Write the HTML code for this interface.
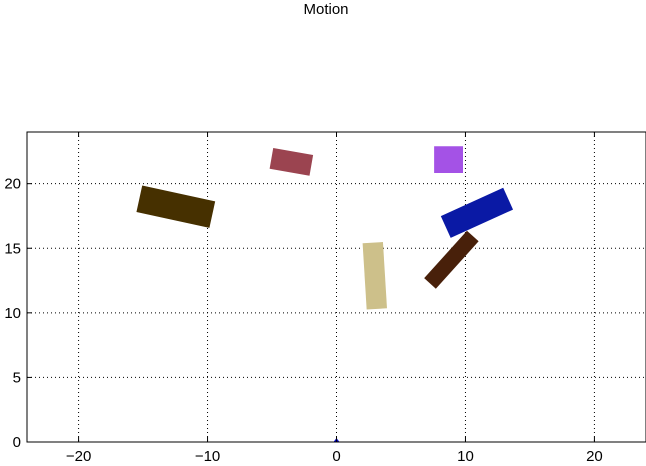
<!DOCTYPE html>
<html><head><meta charset="utf-8"><style>
body{margin:0;background:#fff}
svg{display:block;font-family:"Liberation Sans","DejaVu Sans",sans-serif}
</style></head><body>
<svg id="chart" width="646" height="466" viewBox="0 0 646 466">
<text x="326" y="14" font-size="15" text-anchor="middle">Motion</text>
<g id="grid"></g>
<g id="marks"></g>
<g id="axes"></g>
</svg>
<script>
const xTicks=[-20,-10,0,10,20];
const yTicks=[0,5,10,15,20];
const rectNames=['rect-dark-brown','rect-red','rect-purple','rect-blue','rect-brown','rect-tan'];
const rectCx=[-12.46,-3.5,8.69,10.89,8.91,2.97];
const rectCy=[18.22,21.69,21.86,17.74,14.11,12.87];
const rectLen=[5.79,3.14,2.24,5.31,4.95,5.14];
const rectWid=[2.1,1.63,2.07,1.85,1.22,1.58];
const rectAng=[-12.3,-9.9,0,24.4,47.9,93.5];
const rectColors=['#463000','#9b4450','#a452e6','#0a19a5','#48200a','#cdc08a'];
const X0=27,X1=646,Y0=442,Y1=132,xmin=-24,xmax=24,ymin=0,ymax=24;
const sx=v=>X0+(v-xmin)/(xmax-xmin)*(X1-X0);
const sy=v=>Y0-(v-ymin)/(ymax-ymin)*(Y0-Y1);
const NS='http://www.w3.org/2000/svg';
function mk(t,a,p){const e=document.createElementNS(NS,t);for(const k in a)e.setAttribute(k,a[k]);p.appendChild(e);return e;}
const grid=document.getElementById('grid'),axes=document.getElementById('axes'),marks=document.getElementById('marks');
xTicks.forEach(t=>{const x=sx(t);
 const g=mk('line',{x1:x,x2:x,y1:Y1,y2:Y0,stroke:'#000','stroke-dasharray':'1,3'},grid);
 
 
 mk('line',{x1:x,x2:x,y1:Y0,y2:Y0-5,stroke:'#000'},axes);
 mk('line',{x1:x,x2:x,y1:Y1,y2:Y1+5,stroke:'#000'},axes);
 const l=mk('text',{x:x,y:Y0+19,'font-size':15,'text-anchor':'middle'},axes);l.textContent=t<0?'\u2212'+(-t):t;
 
 
});
yTicks.forEach(t=>{const y=sy(t);
 const g=mk('line',{x1:X0,x2:X1,y1:y,y2:y,stroke:'#000','stroke-dasharray':'1,3'},grid);
 
 
 mk('line',{x1:X0,x2:X0+5,y1:y,y2:y,stroke:'#000'},axes);
 const l=mk('text',{x:X0-6,y:y+5,'font-size':15,'text-anchor':'end'},axes);l.textContent=t;
 
 
});
rectCx.forEach((cx,i)=>{
 const a=rectAng[i]*Math.PI/180,L=rectLen[i]/2,W=rectWid[i]/2;
 const ux=Math.cos(a),uy=Math.sin(a),vx=-uy,vy=ux;
 const pts=[[1,1],[1,-1],[-1,-1],[-1,1]].map(([p,q])=>{
  const dx=cx+p*L*ux+q*W*vx,dy=rectCy[i]+p*L*uy+q*W*vy;return sx(dx)+','+sy(dy);}).join(' ');
 const r=mk('polygon',{points:pts,fill:rectColors[i]},marks);
 
 
});
const m=mk('path',{d:`M${sx(0)-3},${sy(0)} L${sx(0)},${sy(0)-4} L${sx(0)+3},${sy(0)} Z`,fill:'#0000cc'},marks);


const f=mk('rect',{x:X0,y:Y1,width:X1-X0,height:Y0-Y1,fill:'none',stroke:'#000','stroke-width':1},axes);


</script>
</body></html>
